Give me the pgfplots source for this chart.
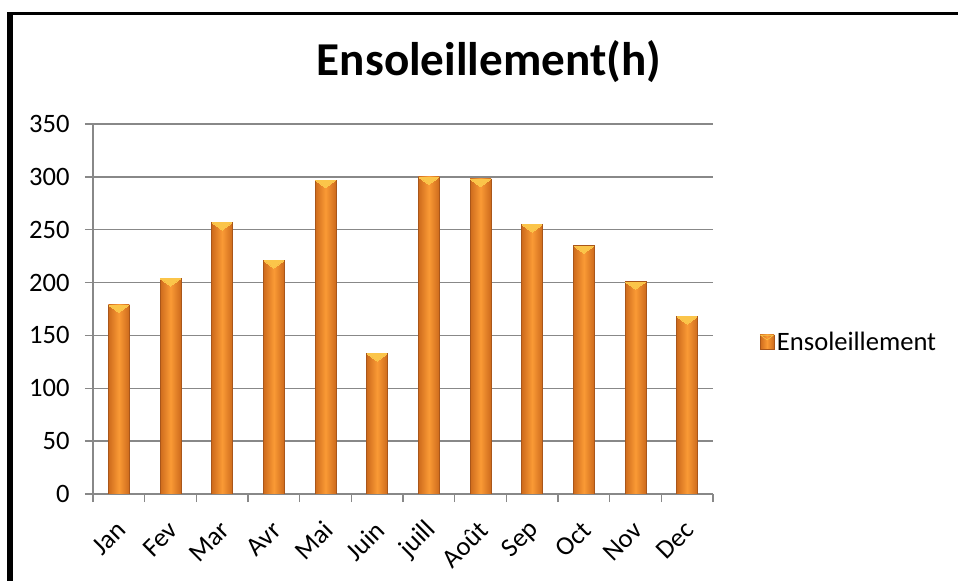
\documentclass[border=0pt]{standalone}
\usepackage{pgfplots}
\pgfplotsset{compat=1.18}
\usepackage{fontspec}
\setmainfont{Carlito}
\definecolor{barmid}{HTML}{FA9A35}
\definecolor{baredge}{HTML}{CD6A1C}
\definecolor{barline}{HTML}{A9561A}
\definecolor{bevel}{HTML}{FBC54A}
\definecolor{gridgray}{HTML}{888888}
\pgfplotsset{sunbar/.style={ybar, bar width=15.75bp, bar shift=0pt,
  left color=baredge, right color=baredge, middle color=barmid, draw=barline, line width=0.4bp}}
\begin{document}
\begin{tikzpicture}[x=0.75bp,y=0.75bp]
\path[use as bounding box] (0,0) rectangle (958,581);
\fill[black] (7,0) rectangle (12.5,568.7);
\fill[black] (7,565.7) rectangle (958,568.7);
\node[anchor=base, font=\bfseries\fontsize{35.5}{40}\selectfont] at (489,505) {Ensoleillement(h)};
\begin{axis}[
  at={(69.75bp,65.25bp)}, anchor=south west,
  scale only axis, width=465bp, height=277.5bp,
  ymin=0, ymax=350, xmin=-0.5, xmax=11.5,
  ytick={0,50,...,350},
  xtick={0,...,11},
  xticklabels={Jan,Fev,Mar,Avr,Mai,Juin,juill,Août,Sep,Oct,Nov,Dec},
  minor xtick={-0.5,0.5,...,11.5},
  major x tick style={draw=none},
  axis x line*=bottom, axis y line*=left,
  axis line style={draw=gridgray, line width=1bp, -},
  ymajorgrids, grid style={draw=gridgray, line width=1bp},
  tick align=outside, tick style={draw=gridgray, line width=1bp},
  major tick length=6bp, minor tick length=6bp,
  /pgf/number format/assume math mode=true,
  ticklabel style={font=\fontsize{20}{23}\selectfont},
  yticklabel style={xshift=-8bp},
  xticklabel style={xshift=4.5bp, yshift=-15.5bp, rotate=45, anchor=east},
  legend style={at={(1.075,0.411)}, anchor=west, draw=none, fill=none,
    inner sep=0pt, font=\fontsize{20}{23}\selectfont},
  legend image code/.code={%
    \fill[left color=baredge, right color=baredge, middle color=barmid, draw=barline, line width=0.4bp]
      (0bp,-5.25bp) rectangle (10.5bp,5.25bp);
    \fill[bevel] (0.5bp,5bp) -- (10bp,5bp) -- (5.25bp,1.5bp) -- cycle;},
]
\addplot[sunbar] coordinates {(0,179)};
\addlegendentry{Ensoleillement}
\addplot[sunbar, forget plot] coordinates {(1,204)};
\addplot[sunbar, forget plot] coordinates {(2,257)};
\addplot[sunbar, forget plot] coordinates {(3,221)};
\addplot[sunbar, forget plot] coordinates {(4,297)};
\addplot[sunbar, forget plot] coordinates {(5,133)};
\addplot[sunbar, forget plot] coordinates {(6,300)};
\addplot[sunbar, forget plot] coordinates {(7,298)};
\addplot[sunbar, forget plot] coordinates {(8,255)};
\addplot[sunbar, forget plot] coordinates {(9,235)};
\addplot[sunbar, forget plot] coordinates {(10,201)};
\addplot[sunbar, forget plot] coordinates {(11,168)};
% top bevel of each bar
\addplot[forget plot, color=bevel, only marks, mark=triangle*, mark size=8.5bp,
  mark options={yshift=-2.2bp, yscale=0.42, rotate=180, fill=bevel, draw=bevel, line width=0pt}]
  coordinates {(0,179) (1,204) (2,257) (3,221) (4,297) (5,133) (6,300) (7,298) (8,255) (9,235) (10,201) (11,168)};
\end{axis}
\end{tikzpicture}
\end{document}
